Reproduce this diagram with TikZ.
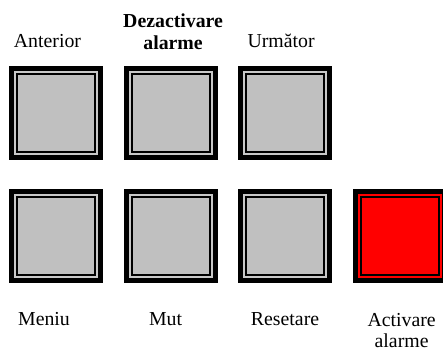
\documentclass[tikz,border=0pt]{standalone}
\usepackage{fontspec}
\setmainfont{Liberation Serif}
\usetikzlibrary{positioning}
\definecolor{fata}{HTML}{C0C0C0}
\definecolor{dunga}{HTML}{C8C8C8}
\begin{document}
\begin{tikzpicture}[x=0.75pt,y=0.75pt,
    buton/.style={rectangle,fill=black,minimum size=70.5pt,inner sep=0pt},
    dungabox/.style={rectangle,fill=#1,minimum size=63pt,inner sep=0pt},
    dungabox/.default=dunga,
    fatabox/.style={rectangle,fill=#1,draw=black,line width=1.5pt,minimum size=58.5pt,inner sep=0pt},
    fatabox/.default=fata,
    eticheta/.style={inner sep=0pt,align=center,font=\rmfamily\fontsize{14.85}{16}\selectfont}]
    \useasboundingbox (0,0) rectangle (443,-350);
    % butoanele
    \node [buton] (ant) at (56,-113) {};
    \node [buton,right=15pt of ant] (dez) {};
    \node [buton,right=15pt of dez] (urm) {};
    \node [buton,below=21pt of ant] (men) {};
    \node [buton,right=15pt of men] (mut) {};
    \node [buton,right=15pt of mut] (res) {};
    \node [buton,right=15pt of res] (act) {};
    \foreach \b in {ant,dez,urm,men,mut,res}{
        \node [dungabox] (\b-d) at (\b) {};
        \node [fatabox] (\b-f) at (\b) {};
    }
    \node [dungabox=red] (act-d) at (act) {};
    \node [fatabox=red] (act-f) at (act) {};
    % etichete
    \node [eticheta,above=13.5pt of ant,xshift=-6.4pt] (t-ant) {Anterior};
    \node [eticheta,above=12pt of dez,xshift=1.9pt,font=\rmfamily\fontsize{14.85}{16}\selectfont\bfseries] (t-dez) {Dezactivare\\alarme};
    \node [eticheta,above=13.5pt of urm,xshift=-3pt] (t-urm) {Următor};
    \node [eticheta,below=21.75pt of men,xshift=-9pt] (t-men) {Meniu};
    \node [eticheta,below=21.75pt of mut,xshift=-3.75pt] (t-mut) {Mut};
    \node [eticheta,below=21.75pt of res] (t-res) {Resetare};
    \node [eticheta,below=22.5pt of act,xshift=1.5pt] (t-act) {Activare\\alarme};
\end{tikzpicture}
\end{document}
